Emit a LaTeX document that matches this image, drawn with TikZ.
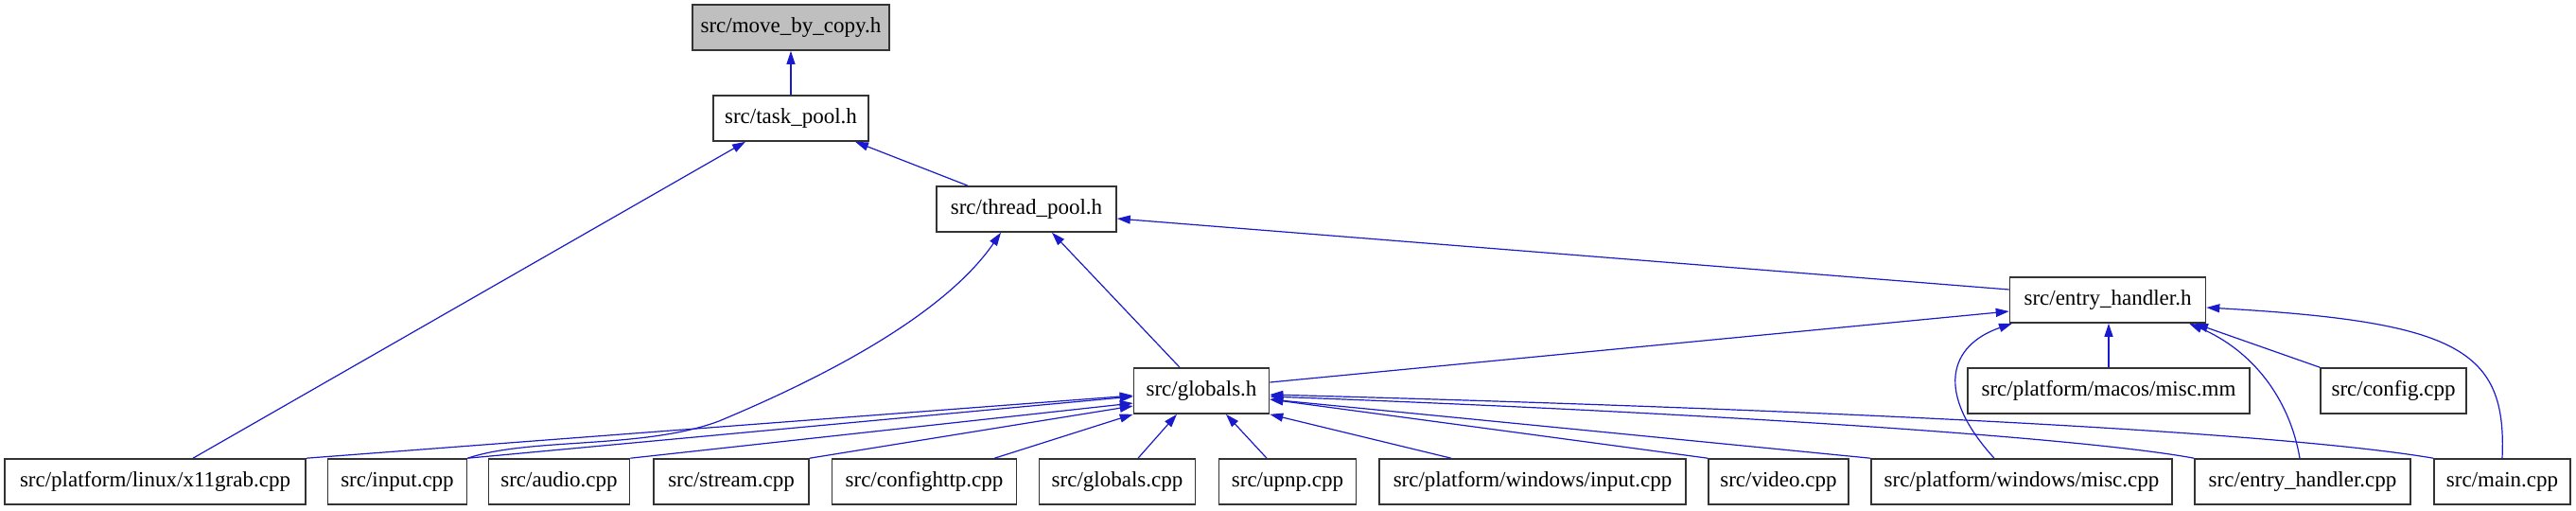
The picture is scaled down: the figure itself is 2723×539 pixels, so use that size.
\documentclass[tikz,border=0pt]{standalone}
\usepackage{fontspec}
\usepackage{tikz}
\usetikzlibrary{positioning,arrows.meta}
\newfontfamily\filefont{Liberation Serif}
\definecolor{edgeblue}{HTML}{1A1ACD}
\definecolor{boxline} {HTML}{333333}
\tikzset{
  >=stealth,
  % --- nodes
  file/.style = {draw=boxline, line width=1.6pt, fill=white, inner sep=0pt,
                 minimum height=48pt, font=\filefont\fontsize{23}{27}\selectfont},
  cur/.style  = {file, fill=black!25},
  % --- edges
  inc/.style  = {-{Triangle[length=14pt,width=9pt]}, draw=edgeblue, line width=1.2pt},
}

\begin{document}
\begin{tikzpicture}[x=1pt,y=-1pt]
  \fill[white] (0,0) rectangle (2723,539);
  \useasboundingbox (0,0) rectangle (2723,539);

  \node[cur, minimum width=208pt] (mbc) at (836,29) {src/move\_by\_copy.h};
  \node[file, minimum width=164pt] (tpool) at (836,125) {src/task\_pool.h};
  \node[file, minimum width=190pt] (thpool) at (1085,221) {src/thread\_pool.h};
  \node[file, minimum width=207pt] (enth) at (2228,317) {src/entry\_handler.h};
  \node[file, minimum width=143pt] (glob) at (1270,413) {src/globals.h};
  \node[file, minimum width=298pt] (macmisc) at (2229,413) {src/platform/macos/misc.mm};
  \node[file, minimum width=154pt] (cfg) at (2530,413) {src/config.cpp};

  \node[file, minimum width=318pt] (x11) at (164,509) {src/platform/linux/x11grab.cpp};
  \node[file, minimum width=147pt] (inp) at (420,509) {src/input.cpp};
  \node[file, minimum width=149pt] (aud) at (591,509) {src/audio.cpp};
  \node[file, minimum width=164pt] (strm) at (773,509) {src/stream.cpp};
  \node[file, minimum width=195pt] (chttp) at (977,509) {src/confighttp.cpp};
  \node[file, minimum width=165pt] (globcpp) at (1181,509) {src/globals.cpp};
  \node[file, minimum width=145pt] (upnp) at (1361,509) {src/upnp.cpp};
  \node[file, minimum width=324pt] (wininp) at (1620,509) {src/platform/windows/input.cpp};
  \node[file, minimum width=148pt] (vid) at (1880,509) {src/video.cpp};
  \node[file, minimum width=318pt] (winmisc) at (2137,509) {src/platform/windows/misc.cpp};
  \node[file, minimum width=228pt] (entcpp) at (2434,509) {src/entry\_handler.cpp};
  \node[file, minimum width=144pt] (mainc) at (2645,509) {src/main.cpp};

  \draw[inc] (tpool) -- (mbc);
  \draw[inc] ([xshift=40pt]x11.north) -- ([xshift=-48pt]tpool.south);
  \draw[inc] ([xshift=-62pt]thpool.north) -- ([xshift=68pt]tpool.south);
  \draw[inc] ([xshift=-23pt]glob.north) -- ([xshift=27pt]thpool.south);
  \draw[inc] (inp.north east) .. controls (560,462) and (680,475) .. (760,445)
             .. controls (880,395) and (1000,330) .. ([xshift=-27pt]thpool.south);
  \draw[inc] ([yshift=11pt]enth.west) -- ([yshift=-10pt]thpool.east);
  \draw[inc] ([yshift=9pt]glob.east) -- ([yshift=-12pt]enth.west);
  \draw[inc] (macmisc.north) -- (macmisc.north |- enth.south);
  \draw[inc] (cfg.north west) -- ([xshift=92pt]enth.south);
  \draw[inc] ([xshift=-29pt]winmisc.north) .. controls (2045,415) and (2060,365) .. ([xshift=-101pt]enth.south);
  \draw[inc] ([xshift=-3pt]entcpp.north) .. controls (2420,420) and (2380,370) .. ([xshift=86pt]enth.south);
  \draw[inc] (mainc.north) .. controls (2650,370) and (2600,340) .. ([yshift=-8pt]enth.east);

  \draw[inc] (x11.north east) -- ([yshift=-5pt]glob.west);
  \draw[inc] (inp.north east) -- ([yshift=-6pt]glob.west);
  \draw[inc] (aud.north east) -- ([yshift=-13pt]glob.west);
  \draw[inc] (strm.north east) -- ([yshift=-16pt]glob.west);
  \draw[inc] ([xshift=-24pt]chttp.north east) -- (glob.south west);
  \draw[inc] ([xshift=22pt]globcpp.north) -- ([xshift=-26pt]glob.south);
  \draw[inc] ([xshift=-22pt]upnp.north) -- ([xshift=26pt]glob.south);
  \draw[inc] ([xshift=-86pt]wininp.north) -- (glob.south east);
  \draw[inc] (vid.north west) -- ([yshift=-9pt]glob.east);
  \draw[inc] (winmisc.north west) -- ([yshift=-9pt]glob.east);
  \draw[inc] (entcpp.north west) .. controls (2200,462) and (1800,436) .. ([yshift=-6pt]glob.east);
  \draw[inc] (mainc.north west) .. controls (2400,455) and (1900,432) .. ([yshift=-4pt]glob.east);
\end{tikzpicture}
\end{document}
